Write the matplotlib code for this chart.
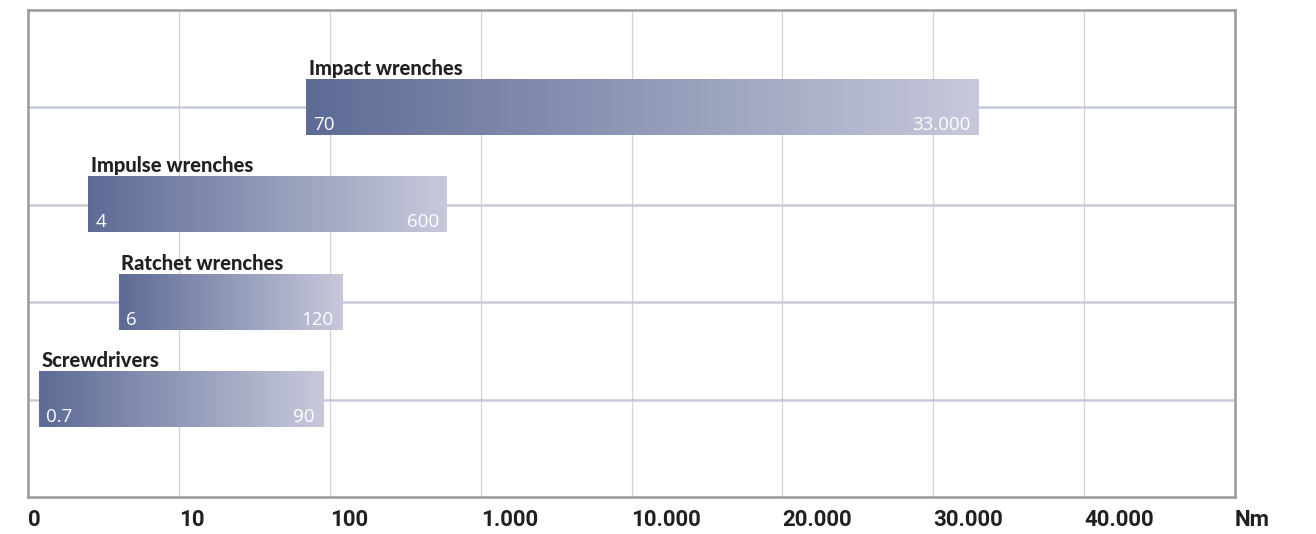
import numpy as np
import matplotlib.pyplot as plt
from matplotlib.colors import LinearSegmentedColormap
from matplotlib.transforms import Bbox, TransformedBbox, BboxTransformTo

# torque ranges in Nm, bottom to top
tools = ['Screwdrivers', 'Ratchet wrenches', 'Impulse wrenches', 'Impact wrenches']
t_min = [0.7, 6, 4, 70]
t_max = [90, 120, 600, 33000]
min_labels = ['0.7', '6', '4', '70']
max_labels = ['90', '120', '600', '33.000']

tick_vals = [0, 10, 100, 1000, 10000, 20000, 30000, 40000, 50000]
tick_labels = ['0', '10', '100', '1.000', '10.000', '20.000', '30.000', '40.000', 'Nm']


def fwd(v):
    # linear 0-10, one slot per decade up to 10.000, then linear steps of 10.000
    v = np.asarray(v, float)
    lo = v / 10
    mid = 1 + np.log10(np.clip(v, 10, 10000) / 10)
    hi = 4 + (v - 10000) / 10000
    return np.where(v < 10, lo, np.where(v <= 10000, mid, hi))


def inv(p):
    p = np.asarray(p, float)
    mid = 10 * 10 ** (np.clip(p, 1, 4) - 1)
    return np.where(p < 1, p * 10, np.where(p <= 4, mid, 10000 + (p - 4) * 10000))


cmap = LinearSegmentedColormap.from_list('bar', ['#5d6b95', '#c7c9db'])
grad = np.linspace(0, 1, 256).reshape(1, -1)

fig = plt.figure(figsize=(13.16, 5.34), dpi=100)
ax = fig.add_axes([0.0213, 0.0693, 0.9172, 0.912])
ax.set_xscale('function', functions=(fwd, inv))
ax.set_xlim(0, 50000)
ax.set_ylim(0, 5)

bar_h = 0.565
for i, name in enumerate(tools):
    y = i + 1
    x0, x1 = t_min[i], t_max[i]
    ax.barh(y, x1 - x0, left=x0, height=bar_h, color='none', zorder=3)
    bb = TransformedBbox(Bbox.from_extents(x0, y - bar_h / 2, x1, y + bar_h / 2), ax.transData)
    ax.imshow(grad, cmap=cmap, extent=(0, 1, 0, 1), aspect='auto',
              transform=BboxTransformTo(bb), zorder=3, interpolation='bilinear')
    ax.annotate(name, (x0, y + bar_h / 2), xytext=(2, 1.5), textcoords='offset points',
                ha='left', va='bottom', fontsize=14.5, fontweight='black',
                family='Lato', color='#231f20', zorder=4)
    ax.annotate(min_labels[i], (x0, y - bar_h / 2), xytext=(5, 3.5), textcoords='offset points',
                ha='left', va='baseline', fontsize=13.5, family='Open Sans',
                color='white', zorder=4)
    ax.annotate(max_labels[i], (x1, y - bar_h / 2), xytext=(-6, 3.5), textcoords='offset points',
                ha='right', va='baseline', fontsize=13.5, family='Open Sans',
                color='white', zorder=4)

ax.set_xlim(0, 50000)
ax.set_ylim(0, 5)

ax.set_xticks(tick_vals)
ax.set_xticklabels(tick_labels, fontsize=16, fontweight='bold', family='Roboto', color='#231f20')
for lab in ax.get_xticklabels():
    lab.set_horizontalalignment('left')
ax.tick_params(axis='x', length=0, pad=9)
ax.set_xticks([], minor=True)
ax.set_yticks([1, 2, 3, 4])
ax.set_yticklabels([])
ax.tick_params(axis='y', length=0)

ax.set_axisbelow(True)
ax.grid(axis='x', color='#d0d1e1', linewidth=0.9)
ax.grid(axis='y', color='#c8c9dc', linewidth=1.8)

for s in ax.spines.values():
    s.set_color('#9a9a9d')
    s.set_linewidth(1.8)

fig.savefig('out.png', dpi=100)
plt.close(fig)
